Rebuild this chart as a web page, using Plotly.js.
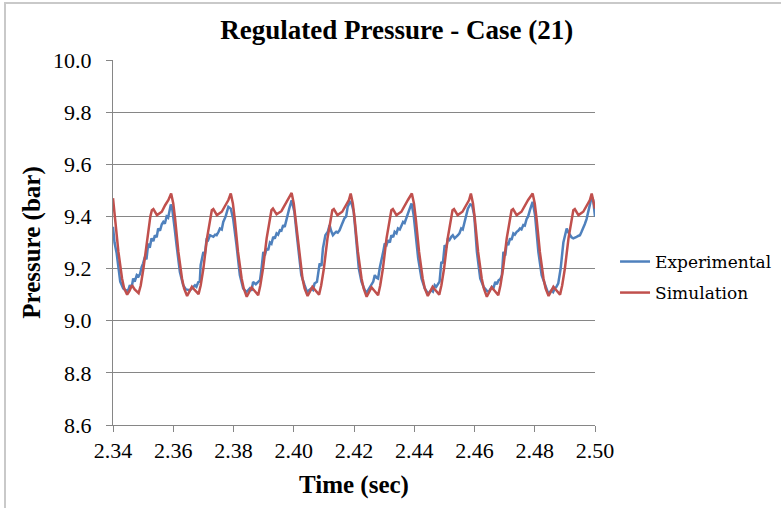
<!DOCTYPE html>
<html>
<head>
<meta charset="utf-8">
<script src="https://cdn.plot.ly/plotly-3.0.1.min.js"></script>
<style>
html,body{margin:0;padding:0;background:#fff;overflow:hidden;}
#wrap{position:relative;width:781px;height:508px;overflow:hidden;}
#chart{width:781px;height:508px;}
#frame{position:absolute;left:4px;top:2px;width:790px;height:515px;border-top:2px solid #c9c9c9;border-left:2px solid #c9c9c9;pointer-events:none;}
</style>
</head>
<body>
<div id="wrap"><div id="chart"></div><div id="frame"></div></div>
<script>
// Experimental series (time in s, pressure in bar)
const expTime = [
2.3400,2.3405,2.3412,2.3418,2.3424,2.3434,2.3446,2.3452,2.3456,2.3462,2.3467,2.3472,2.3479,2.3485,2.3490,2.3495,2.3500,2.3506,2.3511,2.3517,2.3522,2.3528,2.3534,2.3539,2.3545,2.3550,2.3556,2.3562,2.3567,2.3572,2.3578,2.3583,2.3587,2.3592,
2.3596,2.3600,2.3605,2.3611,2.3617,2.3622,2.3633,2.3642,2.3656,2.3662,2.3672,2.3677,2.3683,2.3688,2.3691,2.3700,2.3705,2.3711,2.3716,2.3722,2.3733,2.3739,2.3744,2.3750,2.3755,2.3761,2.3766,2.3774,2.3783,2.3791,
2.3799,2.3810,2.3821,2.3832,2.3843,2.3854,2.3860,2.3865,2.3874,2.3882,2.3888,2.3893,2.3899,2.3904,2.3910,2.3915,2.3921,2.3926,2.3932,2.3937,2.3943,2.3948,2.3954,2.3959,2.3965,2.3970,2.3976,2.3985,2.3993,
2.3996,2.4002,2.4010,2.4019,2.4025,2.4036,2.4044,2.4058,2.4064,2.4069,2.4077,2.4086,2.4092,2.4097,2.4105,2.4113,2.4119,2.4124,2.4130,2.4135,2.4141,2.4146,2.4152,2.4160,2.4168,2.4174,2.4179,2.4187,
2.4192,2.4199,2.4208,2.4216,2.4225,2.4236,2.4242,2.4253,2.4258,2.4264,2.4269,2.4275,2.4280,2.4286,2.4297,2.4302,2.4308,2.4313,2.4319,2.4324,2.4330,2.4335,2.4341,2.4346,2.4352,2.4363,2.4368,2.4379,2.4384,2.4391,
2.4398,2.4404,2.4413,2.4424,2.4435,2.4446,2.4457,2.4462,2.4468,2.4473,2.4479,2.4484,2.4490,2.4495,2.4501,2.4506,2.4512,2.4517,2.4523,2.4528,2.4534,2.4539,2.4545,2.4550,2.4556,2.4561,2.4567,2.4573,2.4578,2.4586,
2.4592,2.4599,2.4608,2.4619,2.4630,2.4641,2.4647,2.4652,2.4658,2.4663,2.4669,2.4674,2.4680,2.4686,2.4691,2.4696,2.4702,2.4707,2.4712,2.4718,2.4723,2.4729,2.4734,2.4740,2.4745,2.4751,2.4756,2.4762,2.4767,2.4773,2.4778,2.4784,2.4793,
2.4801,2.4806,2.4812,2.4823,2.4834,2.4845,2.4856,2.4861,2.4867,2.4872,2.4878,2.4886,2.4895,2.4906,2.4911,2.4917,2.4922,2.4928,2.4933,2.4939,2.4944,2.4950,2.4955,2.4961,2.4966,2.4972,2.4981,2.4989,2.4994,2.5000
];
const expPressure = [
9.36,9.30,9.26,9.20,9.15,9.124,9.113,9.122,9.136,9.128,9.162,9.150,9.175,9.170,9.180,9.206,9.220,9.245,9.235,9.296,9.280,9.316,9.305,9.328,9.320,9.354,9.345,9.370,9.379,9.372,9.400,9.395,9.424,9.446,
9.435,9.405,9.350,9.290,9.230,9.187,9.136,9.120,9.117,9.125,9.136,9.130,9.148,9.150,9.213,9.264,9.255,9.316,9.310,9.328,9.322,9.330,9.328,9.340,9.354,9.350,9.379,9.400,9.437,9.430,
9.390,9.290,9.175,9.124,9.110,9.124,9.115,9.149,9.140,9.149,9.155,9.200,9.264,9.250,9.278,9.270,9.300,9.295,9.322,9.315,9.335,9.330,9.347,9.345,9.367,9.360,9.390,9.430,9.462,
9.450,9.418,9.330,9.240,9.175,9.136,9.110,9.124,9.118,9.143,9.149,9.220,9.210,9.278,9.328,9.341,9.367,9.345,9.328,9.335,9.341,9.338,9.347,9.370,9.392,9.400,9.437,9.456,
9.450,9.418,9.290,9.200,9.149,9.117,9.108,9.130,9.136,9.150,9.175,9.165,9.162,9.206,9.264,9.296,9.290,9.309,9.300,9.328,9.320,9.341,9.335,9.354,9.350,9.379,9.375,9.410,9.420,9.450,
9.405,9.330,9.239,9.162,9.124,9.104,9.117,9.112,9.136,9.130,9.143,9.150,9.226,9.220,9.290,9.280,9.316,9.310,9.322,9.328,9.316,9.320,9.328,9.335,9.354,9.350,9.379,9.400,9.430,9.446,
9.443,9.405,9.264,9.162,9.130,9.115,9.110,9.120,9.130,9.125,9.149,9.140,9.155,9.160,9.175,9.264,9.250,9.300,9.290,9.316,9.310,9.335,9.330,9.341,9.345,9.354,9.350,9.367,9.365,9.390,9.400,9.424,9.456,
9.405,9.330,9.264,9.175,9.136,9.104,9.117,9.110,9.124,9.130,9.143,9.200,9.300,9.354,9.340,9.328,9.320,9.316,9.320,9.322,9.325,9.328,9.340,9.354,9.370,9.390,9.430,9.475,9.463,9.400
];

// Simulation series
const simTime = [
2.3400,2.3407,2.3418,2.3430,2.3437,2.3447,2.3455,2.3463,2.3472,2.3485,2.3492,2.3501,2.3513,2.3524,2.3529,2.3534,2.3546,2.3562,2.3573,2.3584,
2.3593,2.3600,2.3606,2.3617,2.3629,2.3636,2.3646,2.3654,2.3662,2.3671,2.3684,2.3691,2.3700,2.3712,2.3723,2.3728,2.3733,2.3745,2.3761,2.3772,2.3783,
2.3791,2.3798,2.3804,2.3815,2.3827,2.3834,2.3844,2.3852,2.3860,2.3869,2.3882,2.3889,2.3898,2.3910,2.3921,2.3926,2.3931,2.3943,2.3959,2.3970,2.3981,
2.3993,2.4000,2.4006,2.4017,2.4029,2.4036,2.4046,2.4054,2.4062,2.4071,2.4084,2.4091,2.4100,2.4112,2.4123,2.4128,2.4133,2.4145,2.4161,2.4172,2.4183,
2.4189,2.4196,2.4202,2.4213,2.4225,2.4232,2.4242,2.4250,2.4258,2.4267,2.4280,2.4287,2.4296,2.4308,2.4319,2.4324,2.4329,2.4341,2.4357,2.4368,2.4379,
2.4392,2.4399,2.4405,2.4416,2.4428,2.4435,2.4445,2.4453,2.4461,2.4470,2.4483,2.4490,2.4499,2.4511,2.4522,2.4527,2.4532,2.4544,2.4560,2.4571,2.4582,
2.4588,2.4595,2.4601,2.4612,2.4624,2.4631,2.4641,2.4649,2.4657,2.4666,2.4679,2.4686,2.4695,2.4707,2.4718,2.4723,2.4728,2.4740,2.4756,2.4767,2.4778,
2.4793,2.4800,2.4806,2.4817,2.4829,2.4836,2.4846,2.4854,2.4862,2.4871,2.4884,2.4891,2.4900,2.4912,2.4923,2.4928,2.4933,2.4945,2.4961,2.4972,2.4983,
2.4989,2.4996,2.5000
];
const simPressure = [
9.470,9.392,9.264,9.162,9.124,9.100,9.115,9.136,9.120,9.106,9.135,9.200,9.316,9.400,9.424,9.428,9.405,9.418,9.443,9.463,
9.488,9.450,9.392,9.264,9.162,9.124,9.095,9.112,9.130,9.118,9.102,9.135,9.200,9.316,9.400,9.424,9.428,9.405,9.418,9.443,9.463,
9.488,9.450,9.392,9.264,9.162,9.124,9.092,9.110,9.128,9.116,9.098,9.135,9.200,9.316,9.400,9.424,9.430,9.408,9.420,9.443,9.463,
9.490,9.450,9.392,9.264,9.162,9.124,9.095,9.112,9.130,9.118,9.100,9.135,9.200,9.316,9.400,9.424,9.428,9.405,9.418,9.443,9.463,
9.488,9.450,9.392,9.264,9.162,9.124,9.092,9.110,9.128,9.116,9.098,9.135,9.200,9.316,9.400,9.424,9.428,9.405,9.418,9.443,9.463,
9.488,9.450,9.392,9.264,9.162,9.124,9.095,9.112,9.130,9.118,9.100,9.135,9.200,9.316,9.400,9.424,9.428,9.405,9.418,9.443,9.463,
9.488,9.450,9.392,9.264,9.162,9.124,9.092,9.110,9.128,9.116,9.098,9.135,9.200,9.316,9.400,9.424,9.428,9.405,9.418,9.443,9.463,
9.488,9.450,9.392,9.264,9.162,9.124,9.095,9.112,9.130,9.118,9.100,9.135,9.200,9.316,9.400,9.424,9.428,9.405,9.418,9.443,9.463,
9.488,9.450,9.430
];

const xTicks = [2.34,2.36,2.38,2.40,2.42,2.44,2.46,2.48,2.50];
const xTickText = ['2.34','2.36','2.38','2.40','2.42','2.44','2.46','2.48','2.50'];
const yTicks = [8.6,8.8,9.0,9.2,9.4,9.6,9.8,10.0];
const yTickText = ['8.6','8.8','9.0','9.2','9.4','9.6','9.8','10.0'];

const serif = 'Liberation Serif, Times New Roman, serif';
const legSerif = 'DejaVu Serif, serif';

const traces = [
  {x: expTime, y: expPressure, type: 'scatter', mode: 'lines', name: 'Experimental',
   line: {color: '#4F81BD', width: 2.5}, legend: 'legend'},
  {x: simTime, y: simPressure, type: 'scatter', mode: 'lines', name: 'Simulation',
   line: {color: '#C0504D', width: 2.5}, legend: 'legend2'}
];

const layout = {
  width: 781, height: 508,
  margin: {l: 113, r: 186, t: 60, b: 83, pad: 0},
  paper_bgcolor: '#ffffff', plot_bgcolor: '#ffffff',
  showlegend: true,
  title: {text: '<b>Regulated Pressure - Case (21)</b>', font: {family: serif, size: 27, color: '#000'},
          x: 0.508, xref: 'container', xanchor: 'center', y: 0.942, yref: 'container', yanchor: 'middle'},
  xaxis: {range: [2.34, 2.50], tickvals: xTicks, ticktext: xTickText, showgrid: false, zeroline: false,
          showline: true, linecolor: '#868686', linewidth: 1, ticks: 'outside', ticklen: 6, tickcolor: '#868686',
          tickfont: {family: serif, size: 22, color: '#000'},
          title: {text: '<b>Time (sec)</b>', font: {family: serif, size: 25, color: '#000'}, standoff: 13}},
  yaxis: {range: [8.6, 10.0], tickvals: yTicks, ticktext: yTickText, showgrid: true, gridcolor: '#868686', gridwidth: 1,
          zeroline: false, showline: true, linecolor: '#868686', linewidth: 1, ticks: 'outside', ticklen: 6, tickcolor: '#868686',
          tickfont: {family: serif, size: 22, color: '#000'}, ticklabelstandoff: 10,
          title: {text: '<b>Pressure (bar)</b>', font: {family: serif, size: 25, color: '#000'}, standoff: 5}},
  legend: {xref: 'container', yref: 'container', x: 0.7875, xanchor: 'left', y: 0.4843, yanchor: 'middle',
           font: {family: legSerif, size: 17, color: '#000'}, bgcolor: 'rgba(0,0,0,0)', itemwidth: 30},
  legend2: {xref: 'container', yref: 'container', x: 0.7875, xanchor: 'left', y: 0.4232, yanchor: 'middle',
           font: {family: legSerif, size: 17, color: '#000'}, bgcolor: 'rgba(0,0,0,0)', itemwidth: 30}
};

Plotly.newPlot('chart', traces, layout, {displayModeBar: false, staticPlot: true});
</script>
</body>
</html>
